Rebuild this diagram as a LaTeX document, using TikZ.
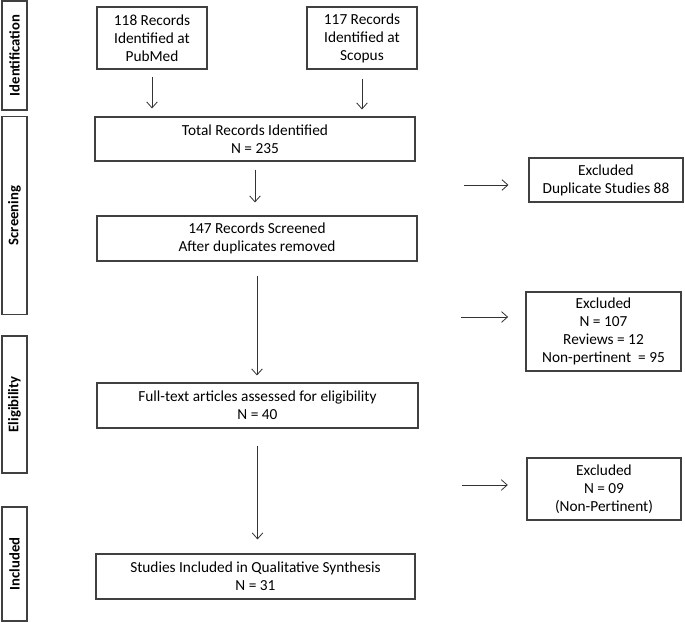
\documentclass[tikz,border=0pt]{standalone}
\usepackage{fontspec}
\setmainfont{Carlito}
\usetikzlibrary{arrows.meta}

\begin{document}
\begin{tikzpicture}[
    x=0.75pt, y=-0.75pt,
    mybox/.style={draw=black!75, line width=0.8pt, align=center, inner sep=2pt,
        font=\fontsize{11.5}{13.5}\selectfont},
    myphase/.style={draw=black!75, line width=0.8pt, rotate=90, inner sep=0pt,
        minimum height=18.75pt, font=\bfseries\fontsize{11}{12}\selectfont},
    myarrow/.style={-{Straight Barb[length=4.5pt, width=8pt]}, line width=0.6pt, black!80}
]
    \useasboundingbox (0, 0) rectangle (685, 623);

    % Phase bars
    \node[myphase, minimum width=81.75pt]  (ident)  at (14.5, 55.5)  {Identification};
    \node[myphase, minimum width=148.5pt]  (screen) at (14.5, 215.5) {Screening};
    \node[myphase, minimum width=102.75pt] (elig)   at (14.5, 404.5) {Eligibility};
    \node[myphase, minimum width=85.5pt]   (incl)   at (14.5, 564)   {Included};

    % Main boxes
    \node[mybox, minimum width=82.5pt, minimum height=46.5pt] (pubmed) at (152, 38)
        {118 Records\\Identified at\\PubMed};
    \node[mybox, minimum width=82.5pt, minimum height=46.5pt] (scopus) at (362, 38)
        {117 Records\\Identified at\\Scopus};
    \node[mybox, minimum width=240pt, minimum height=33pt] (total) at (255, 139)
        {Total Records Identified\\N = 235};
    \node[mybox, minimum width=240pt, minimum height=33.75pt] (screened) at (257, 238.5)
        {147 Records Screened\\After duplicates removed};
    \node[mybox, minimum width=240.75pt, minimum height=33.75pt] (fulltext) at (257.5, 405.5)
        {Full-text articles assessed for eligibility\\N = 40};
    \node[mybox, minimum width=239.25pt, minimum height=33.75pt] (studies) at (255.5, 576.5)
        {Studies Included in Qualitative Synthesis\\N = 31};

    % Excluded boxes
    \node[mybox, minimum width=115.5pt, minimum height=33pt] (dup) at (606, 180)
        {Excluded\\Duplicate Studies 88};
    \node[mybox, minimum width=116.25pt, minimum height=59.25pt] (excl1) at (603.5, 331.5)
        {Excluded\\N = 107\\Reviews = 12\\Non-pertinent \ = 95};
    \node[mybox, minimum width=115.5pt, minimum height=46.5pt] (excl2) at (604, 489)
        {Excluded\\N = 09\\(Non-Pertinent)};

    % Flow arrows
    \draw[myarrow, shorten <=5.25pt, shorten >=6pt] (pubmed.south) -- (pubmed.south |- total.north);
    \draw[myarrow, shorten <=6.75pt, shorten >=5.25pt] (scopus.south) -- (scopus.south |- total.north);
    \draw[myarrow, shorten <=6pt, shorten >=9.75pt] (total.south) -- (total.south |- screened.north);
    \draw[myarrow, shorten <=10.5pt, shorten >=5.25pt] (screened.south) -- (screened.south |- fulltext.north);
    \draw[myarrow, shorten <=12.75pt, shorten >=10.5pt] (fulltext.south) -- (fulltext.south |- studies.north);

    % Exclusion arrows
    \coordinate (d1) at (464, 185);
    \coordinate (d2) at (461, 317);
    \coordinate (d3) at (462, 485);
    \draw[myarrow, shorten >=15pt] (d1) -- (d1 -| dup.west);
    \draw[myarrow, shorten >=13pt] (d2) -- (d2 -| excl1.west);
    \draw[myarrow, shorten >=14pt] (d3) -- (d3 -| excl2.west);
\end{tikzpicture}
\end{document}
